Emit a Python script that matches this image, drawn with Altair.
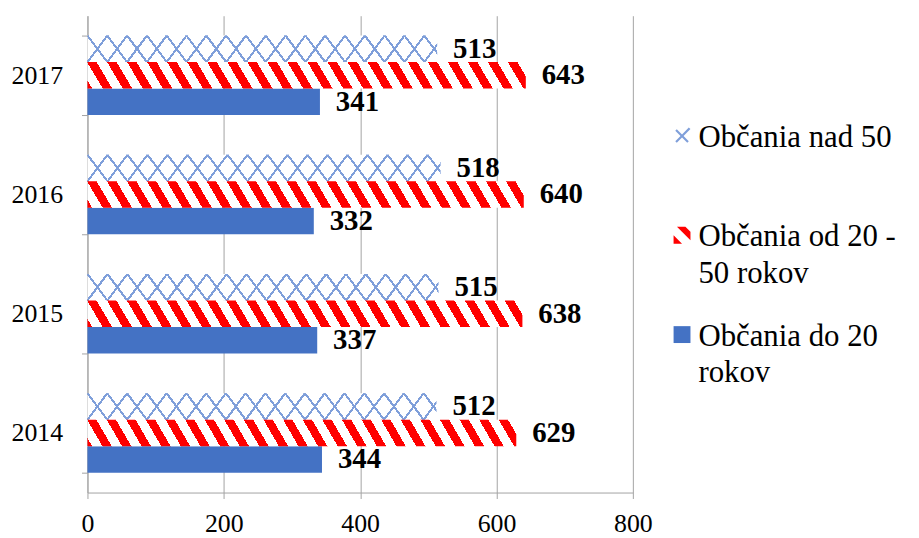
import altair as alt
import pandas as pd

# ---- data ----
years = ["2014", "2015", "2016", "2017"]
series = ["Občania nad 50", "Občania od 20 - 50 rokov", "Občania do 20 rokov"]
legend_labels = ["Občania nad 50", "Občania od 20  -\n50 rokov", "Občania do 20\nrokov"]
nad50 = [512, 515, 518, 513]
od20_50 = [629, 638, 640, 643]
do20 = [344, 337, 332, 341]

rows = []
for i, yr in enumerate(years):
    rows.append({"year": yr, "series": series[0], "value": nad50[i]})
    rows.append({"year": yr, "series": series[1], "value": od20_50[i]})
    rows.append({"year": yr, "series": series[2], "value": do20[i]})
df = pd.DataFrame(rows)
leg_df = pd.DataFrame({"series": series, "label": legend_labels})

# ---- styling ----
W_PLOT, H_PLOT = 549, 480
XMAX = 800
FONT = "Liberation Serif"
GRAY = "#A3A3A3"
BLUE = "#4472C4"
RED = "#FF0000"
LBLUE = "#7F9FDA"
BAR_H = H_PLOT / 4 * (2 / 3) / 3  # bar thickness in px


def stripes(W, H, k, P, lw, color, bg, direction, phase=0.0):
    """Diagonal stripe gradient in bounding-box units (pattern emulation)."""
    hk = H / k
    L = W + hk
    a = L / (W * W + hk * hk)
    if direction == "/":
        x1, y1, x2, y2 = 0, 0, a * W, a * hk
    else:
        x1, y1, x2, y2 = 0, 1, a * W, 1 - a * hk
    stops = [alt.GradientStop(offset=0, color=bg)]
    m = -1
    while True:
        c = phase + m * P
        lo, hi = (c - lw / 2) / L, (c + lw / 2) / L
        m += 1
        if lo >= 1:
            break
        if hi <= 0:
            continue
        lo, hi = max(lo, 0), min(hi, 1)
        stops += [alt.GradientStop(offset=lo, color=bg),
                  alt.GradientStop(offset=lo, color=color),
                  alt.GradientStop(offset=hi, color=color),
                  alt.GradientStop(offset=hi, color=bg)]
    stops.append(alt.GradientStop(offset=1, color=bg))
    return alt.LinearGradient(gradient="linear", stops=stops,
                              x1=x1, y1=y1, x2=x2, y2=y2)


px = W_PLOT / XMAX
W_n50 = sum(nad50) / 4 * px
W_od = sum(od20_50) / 4 * px

grad_n50_a = stripes(W_n50, BAR_H, 1.333, 20, 2.6, LBLUE, "#FFFFFF", "/")
grad_n50_b = stripes(W_n50, BAR_H, 1.333, 20, 2.6, LBLUE, "rgba(255,255,255,0)", "\\")
grad_red = stripes(W_od, BAR_H, 1.7, 20, 9.5, RED, "#FFFFFF", "\\")

x_enc = alt.X("value:Q", title=None,
              scale=alt.Scale(domain=[0, XMAX], nice=False),
              axis=alt.Axis(values=[0, 200, 400, 600, 800], grid=True,
                            gridColor=GRAY, domainColor=GRAY, tickColor=GRAY,
                            tickSize=6, labelPadding=12, labelFont=FONT,
                            labelFontSize=26, labelColor="black",
                            labelFlush=False))
y_enc = alt.Y("year:O", title=None, sort=years[::-1],
              scale=alt.Scale(paddingInner=1 / 3, paddingOuter=1 / 6),
              axis=alt.Axis(grid=False, domainColor=GRAY, tickColor=GRAY,
                            tickSize=6, tickBand="extent", labelPadding=19,
                            labelFont=FONT, labelFontSize=26,
                            labelColor="black"))
yo_enc = alt.YOffset("series:N", sort=series,
                     scale=alt.Scale(domain=series, paddingInner=0,
                                     paddingOuter=0))

base = alt.Chart(df)
enc = dict(x=x_enc, y=y_enc, yOffset=yo_enc)

blue_bars = base.transform_filter(
    alt.datum.series == series[2]).mark_bar(fill=BLUE, strokeWidth=0).encode(**enc)
n50_a = base.transform_filter(
    alt.datum.series == series[0]).mark_bar(fill=grad_n50_a, strokeWidth=0).encode(**enc)
n50_b = base.transform_filter(
    alt.datum.series == series[0]).mark_bar(fill=grad_n50_b, strokeWidth=0).encode(**enc)
red_bars = base.transform_filter(
    alt.datum.series == series[1]).mark_bar(fill=grad_red, strokeWidth=0).encode(**enc)

labels = base.mark_text(
    align="left", baseline="middle", dx=16, font=FONT, fontSize=29,
    fontWeight="bold", color="black"
).encode(x=alt.X("value:Q"), y=y_enc, yOffset=yo_enc, text=alt.Text("value:Q"))

bars_layer = alt.layer(blue_bars, n50_a, n50_b, red_bars, labels)

# ---- legend (own y scale, placed right of the plot) ----
xpath = ("M-0.8,-0.62L-0.62,-0.8L0,-0.18L0.8,-1L1,-0.82L0.18,0L0.8,0.62"
         "L0.62,0.8L0,0.18L-0.62,0.8L-0.8,0.62L-0.18,0Z")
stripe_path = "M-1,0L0,1L-1,1ZM-0.6,-1L0.4,-1L1,-0.4L1,0.6Z"

leg_y = alt.Y("series:N", sort=series, axis=None, title=None,
              scale=alt.Scale(type="point", domain=series, range=[121, 321],
                              padding=0))
leg_base = alt.Chart(leg_df)
leg_sym = leg_base.mark_point(filled=True, size=289, opacity=1).encode(
    x=alt.value(598.5),
    y=leg_y,
    color=alt.Color("series:N", legend=None,
                    scale=alt.Scale(domain=series, range=[LBLUE, RED, BLUE])),
    shape=alt.Shape("series:N", legend=None,
                    scale=alt.Scale(domain=series,
                                    range=[xpath, stripe_path, "square"])),
)
leg_txt = leg_base.mark_text(
    align="left", baseline="alphabetic", dy=11, font=FONT, fontSize=31,
    lineHeight=37, lineBreak="\n", color="black"
).encode(x=alt.value(615), y=leg_y, text=alt.Text("label:N"))

leg_layer = alt.layer(leg_sym, leg_txt)

chart = alt.layer(bars_layer, leg_layer).resolve_scale(y="independent").properties(
    width=W_PLOT, height=H_PLOT,
    autosize=alt.AutoSizeParams(type="none"),
    padding={"left": 80, "top": 6, "right": 280, "bottom": 44},
).configure_view(stroke=None).configure_axis(labelFont=FONT)

chart.save("out.html", embed_options={"renderer": "svg", "actions": False})
